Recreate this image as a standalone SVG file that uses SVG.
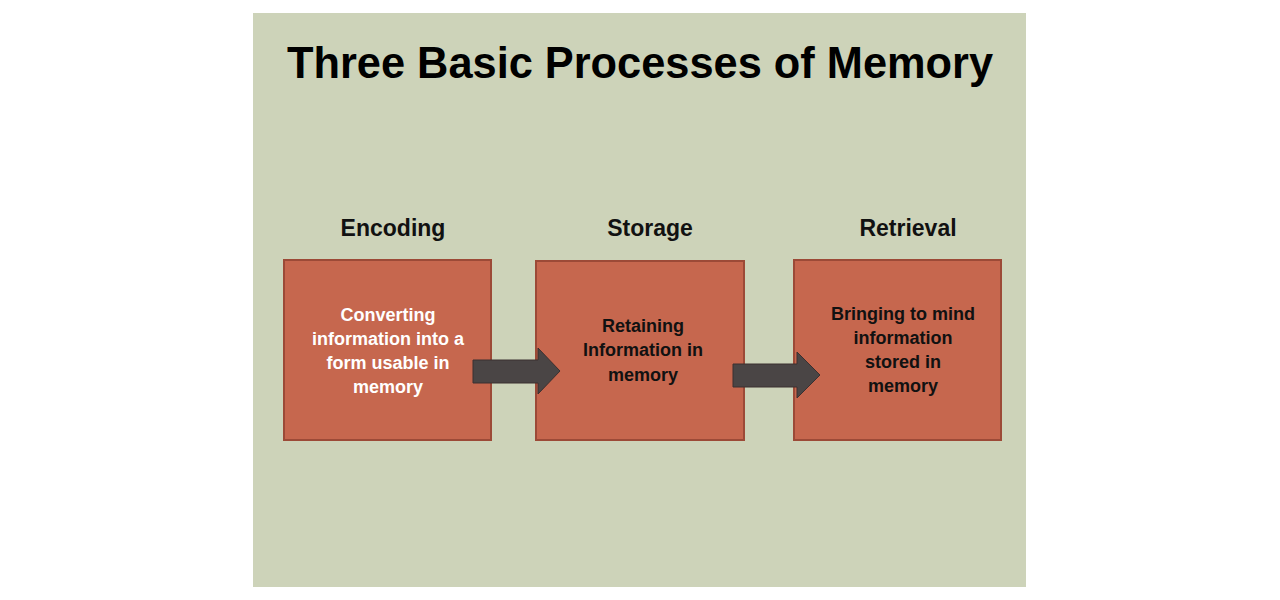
<svg xmlns="http://www.w3.org/2000/svg" width="1280" height="600" viewBox="0 0 1280 600">
<style>
.box{fill:#c6674e;stroke:#9c4a37;stroke-width:2}
.lbl{font-family:"Liberation Sans",Arial,sans-serif;font-size:23px;font-weight:bold;fill:#111;text-anchor:middle}
.t{font-family:"Liberation Sans",Arial,sans-serif;font-size:18px;font-weight:bold;text-anchor:middle}
.arr{fill:#4a4545;stroke:#3a3030;stroke-width:1}
</style>
<rect x="0" y="0" width="1280" height="600" fill="#ffffff"/>
<rect x="253" y="13" width="773" height="574" fill="#cdd3b9"/>
<text x="640" y="78" font-family="Liberation Sans,Arial,sans-serif" font-size="44" font-weight="bold" fill="#000" text-anchor="middle" textLength="706" lengthAdjust="spacingAndGlyphs">Three Basic Processes of Memory</text>
<g id="encoding">
<text class="lbl" x="393" y="236">Encoding</text>
<rect class="box" x="284" y="260" width="207" height="180"/>
<text class="t" fill="#ffffff"><tspan x="388" y="321">Converting</tspan><tspan x="388" y="345">information into a</tspan><tspan x="388" y="369">form usable in</tspan><tspan x="388" y="393">memory</tspan></text>
</g>
<g id="storage">
<text class="lbl" x="650" y="236">Storage</text>
<rect class="box" x="536" y="261" width="208" height="179"/>
<text class="t" fill="#111"><tspan x="643" y="332">Retaining</tspan><tspan x="643" y="356">Information in</tspan><tspan x="643" y="381">memory</tspan></text>
</g>
<g id="retrieval">
<text class="lbl" x="908" y="236">Retrieval</text>
<rect class="box" x="794" y="260" width="207" height="180"/>
<text class="t" fill="#111"><tspan x="903" y="320">Bringing to mind</tspan><tspan x="903" y="344">information</tspan><tspan x="903" y="368">stored in</tspan><tspan x="903" y="392">memory</tspan></text>
</g>
<g id="connectors">
<polygon class="arr" points="473,360 538,360 538,348 560,371 538,394 538,383 473,383"/>
<polygon class="arr" points="733,364 797,364 797,352 820,375 797,398 797,387 733,387"/>
</g>
</svg>
